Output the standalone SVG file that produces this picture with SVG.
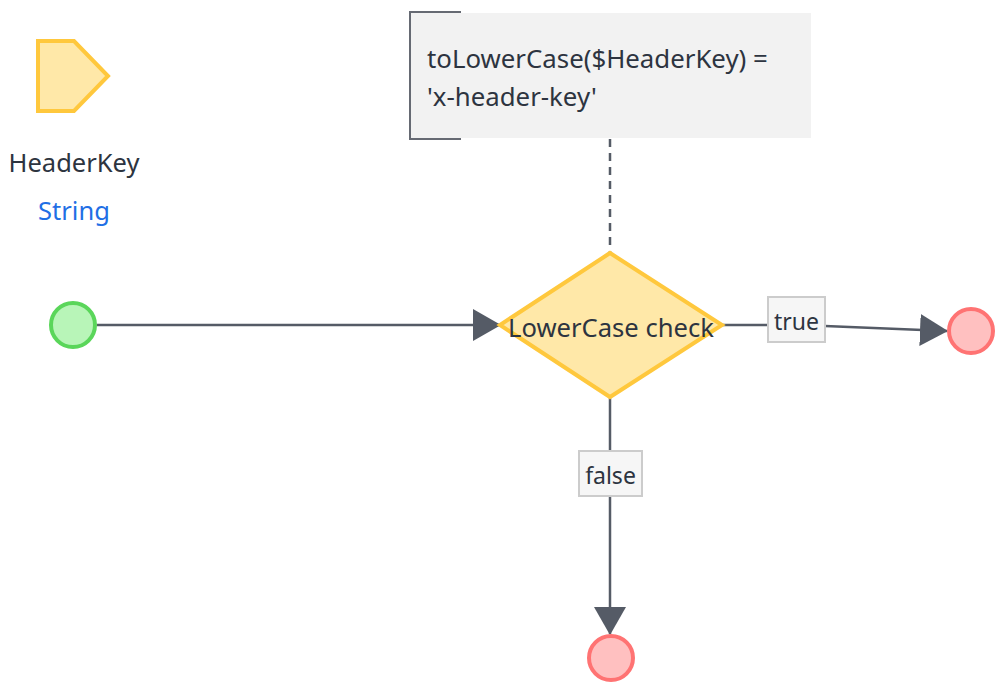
<svg xmlns="http://www.w3.org/2000/svg" width="1007" height="694" viewBox="0 0 1007 694">
<style>
text{font-family:"Segoe UI","Noto Sans","Open Sans",sans-serif;fill:#2d3440}
.lbl{font-size:23px;text-anchor:middle}
.conn{stroke:#555b66;stroke-width:2.5;fill:none}
.lblbox{fill:#f6f6f6;stroke:#cccccc;stroke-width:2}
.end{fill:#ffc0c0;stroke:#ff7373;stroke-width:4}
</style>
<defs>
<marker id="arr" viewBox="0 0 28 32" refX="27" refY="16" markerWidth="28" markerHeight="32" markerUnits="userSpaceOnUse" orient="auto">
<path d="M0,0 L28,16 L0,32 Z" fill="#555b66"/>
</marker>
</defs>
<rect width="1007" height="694" fill="#ffffff"/>
<g id="param">
<polygon points="38,41 74,41 108,76 74,111 38,111" fill="#ffe8a8" stroke="#ffc83d" stroke-width="4"/>
<text x="74" y="172" font-size="25.5" text-anchor="middle">HeaderKey</text>
<text x="74" y="220" font-size="25.5" text-anchor="middle" style="fill:#1f6fe5">String</text>
</g>
<g id="annotation">
<rect x="409" y="13" width="402" height="125" fill="#f2f2f2"/>
<path d="M461,12 H410 V139 H461" fill="none" stroke="#666a73" stroke-width="2"/>
<text x="427" y="68" font-size="25.8">toLowerCase($HeaderKey) =</text>
<text x="427" y="106" font-size="25.8">'x-header-key'</text>
</g>
<g id="connectors">
<line x1="610" y1="139" x2="610" y2="252" stroke="#555b66" stroke-width="2.5" stroke-dasharray="8,6"/>
<line class="conn" x1="97" y1="325" x2="500" y2="325" marker-end="url(#arr)"/>
<polyline class="conn" points="722,325 768,325"/>
<line class="conn" x1="825" y1="326" x2="947" y2="331" marker-end="url(#arr)"/>
<line class="conn" x1="610" y1="398" x2="610" y2="451"/>
<line class="conn" x1="610" y1="496" x2="610" y2="634" marker-end="url(#arr)"/>
</g>
<g id="start">
<circle cx="73" cy="325" r="22" fill="#b8f5b8" stroke="#5ad65a" stroke-width="4"/>
</g>
<g id="decision">
<polygon points="610,253 722,325 610,397 500,325" fill="#ffe8a8" stroke="#ffc83d" stroke-width="4"/>
<text x="611" y="337" font-size="25.6" text-anchor="middle">LowerCase check</text>
</g>
<g id="label-true">
<rect class="lblbox" x="768" y="297" width="57" height="45"/>
<text class="lbl" x="796.5" y="330">true</text>
</g>
<g id="label-false">
<rect class="lblbox" x="579" y="451" width="63" height="45"/>
<text class="lbl" x="610.5" y="484">false</text>
</g>
<g id="end-true">
<circle class="end" cx="971" cy="331" r="22"/>
</g>
<g id="end-false">
<circle class="end" cx="611" cy="658" r="22"/>
</g>
</svg>
